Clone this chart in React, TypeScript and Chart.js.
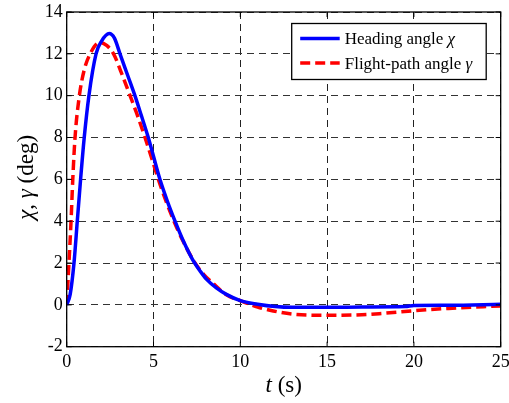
import React, { useEffect, useRef } from "react";
import { Chart, registerables } from "chart.js";

Chart.register(...registerables);

// Heading angle chi (deg) vs t (s)
const headingT = [0, 0.2, 0.42, 0.61, 0.8, 1.01, 1.28, 1.69, 2.0, 2.45, 2.75, 3.07, 3.5, 3.93, 4.3, 4.7, 5.0, 5.37, 5.8, 6.24, 6.72, 7.26, 7.7, 8.06, 8.64, 9.2, 10, 11, 12, 13, 15, 17, 19.5, 20, 22, 25];
const headingDeg = [0, 0.5, 2, 4, 6, 8, 10, 12, 12.6, 12.97, 12.75, 12, 11, 10, 9.05, 8, 7.1, 6, 4.95, 4, 3.05, 2.15, 1.6, 1.22, 0.8, 0.5, 0.2, 0.03, -0.08, -0.12, -0.12, -0.1, -0.08, -0.03, -0.02, 0.03];

// Flight-path angle gamma (deg) vs t (s)
const flightT = [0, 0.13, 0.25, 0.35, 0.48, 0.73, 1.0, 1.35, 1.9, 2.3, 2.7, 3.1, 3.65, 4.1, 4.51, 4.9, 5.28, 5.7, 6.18, 6.7, 7.39, 7.9, 8.4, 9.2, 10, 11, 11.9, 13.2, 15, 17, 18, 20, 22, 25];
const flightDeg = [0, 2, 4, 6, 8, 10, 11.2, 12, 12.55, 12.4, 12, 11.2, 10, 9, 8, 7, 6, 5, 4, 3.05, 2, 1.45, 1.05, 0.48, 0.2, -0.1, -0.29, -0.46, -0.5, -0.47, -0.42, -0.28, -0.17, -0.05];

const xTicks = [0, 5, 10, 15, 20, 25];
const yTicks = [-2, 0, 2, 4, 6, 8, 10, 12, 14];

const legendLabels = ["Heading angle ", "Flight-path angle "];
const legendSymbols = ["\u03C7", "\u03B3"];
const xTitleParts: [string, boolean][] = [["t", true], [" (s)", false]];
const yTitleParts: [string, boolean][] = [["\u03C7", true], [", ", false], ["\u03B3", true], [" (deg)", false]];

const SERIF = '"Liberation Serif", "Times New Roman", serif';

function drawRich(ctx: CanvasRenderingContext2D, parts: [string, boolean][], size: number, cx: number, cy: number) {
  let total = 0;
  const widths: number[] = [];
  for (const [t, it] of parts) {
    ctx.font = `${it ? "italic " : ""}${size}px ${SERIF}`;
    const w = ctx.measureText(t).width;
    widths.push(w);
    total += w;
  }
  let x = cx - total / 2;
  ctx.textAlign = "left";
  ctx.textBaseline = "alphabetic";
  parts.forEach(([t, it], i) => {
    ctx.font = `${it ? "italic " : ""}${size}px ${SERIF}`;
    ctx.fillText(t, x, cy);
    x += widths[i];
  });
}

const overlayPlugin = {
  id: "overlay",
  afterDraw(chart: any) {
    const { ctx, chartArea: a, scales } = chart;
    const xs = scales.x;
    const ys = scales.y;
    ctx.save();
    // frame
    ctx.strokeStyle = "#000";
    ctx.lineWidth = 1.3;
    ctx.setLineDash([]);
    ctx.strokeRect(a.left, a.top, a.right - a.left, a.bottom - a.top);
    // inner tick marks
    ctx.lineWidth = 1;
    const tl = 5;
    ctx.beginPath();
    for (const v of xTicks) {
      const px = xs.getPixelForValue(v);
      ctx.moveTo(px, a.bottom);
      ctx.lineTo(px, a.bottom - tl);
      ctx.moveTo(px, a.top);
      ctx.lineTo(px, a.top + tl);
    }
    for (const v of yTicks) {
      const py = ys.getPixelForValue(v);
      ctx.moveTo(a.left, py);
      ctx.lineTo(a.left + tl, py);
      ctx.moveTo(a.right, py);
      ctx.lineTo(a.right - tl, py);
    }
    ctx.stroke();

    // axis titles
    ctx.fillStyle = "#000";
    drawRich(ctx, xTitleParts, 23, (a.left + a.right) / 2, 392);
    ctx.save();
    ctx.translate(33, (a.top + a.bottom) / 2 - 2);
    ctx.rotate(-Math.PI / 2);
    drawRich(ctx, yTitleParts, 23, 0, 0);
    ctx.restore();

    // legend
    const lx = a.right - 209;
    const ly = a.top + 11.5;
    const lw = 194.5;
    const lh = 56;
    ctx.fillStyle = "#fff";
    ctx.fillRect(lx, ly, lw, lh);
    ctx.strokeStyle = "#000";
    ctx.lineWidth = 1.3;
    ctx.strokeRect(lx, ly, lw, lh);
    const colors = ["#0000ff", "#ff0000"];
    const dashes = [[], [10, 5]];
    const rowsY = [ly + 15, ly + 39.5];
    for (let i = 0; i < 2; i++) {
      ctx.strokeStyle = colors[i];
      ctx.lineWidth = 3.5;
      ctx.setLineDash(dashes[i]);
      ctx.beginPath();
      ctx.moveTo(lx + 8.5, rowsY[i]);
      ctx.lineTo(lx + 48, rowsY[i]);
      ctx.stroke();
      ctx.setLineDash([]);
      ctx.fillStyle = "#000";
      ctx.textBaseline = "alphabetic";
      ctx.textAlign = "left";
      ctx.font = `17px ${SERIF}`;
      const tx = lx + 53;
      const by = rowsY[i] + 5.5;
      ctx.fillText(legendLabels[i], tx, by);
      const w = ctx.measureText(legendLabels[i]).width;
      ctx.font = `italic 17px ${SERIF}`;
      ctx.fillText(legendSymbols[i], tx + w, by);
    }
    ctx.restore();
  },
};

export default function App() {
  const ref = useRef<HTMLCanvasElement | null>(null);
  useEffect(() => {
    if (!ref.current) return;
    const chart = new Chart(ref.current, {
      type: "line",
      data: {
        datasets: [
          {
            label: legendLabels[0] + legendSymbols[0],
            data: headingT.map((t, i) => ({ x: t, y: headingDeg[i] })),
            borderColor: "#0000ff",
            borderWidth: 3.5,
            pointRadius: 0,
            cubicInterpolationMode: "monotone",
            fill: false,
          },
          {
            label: legendLabels[1] + legendSymbols[1],
            data: flightT.map((t, i) => ({ x: t, y: flightDeg[i] })),
            borderColor: "#ff0000",
            borderWidth: 3.5,
            borderDash: [10, 5],
            pointRadius: 0,
            cubicInterpolationMode: "monotone",
            fill: false,
          },
        ],
      },
      options: {
        responsive: false,
        animation: false,
        layout: { padding: { top: 12, right: 8.3, left: 0, bottom: 0 } },
        plugins: { legend: { display: false }, tooltip: { enabled: false } },
        scales: {
          x: {
            type: "linear",
            min: 0,
            max: 25,
            afterBuildTicks: (s: any) => {
              s.ticks = xTicks.map((v) => ({ value: v }));
            },
            afterFit: (s: any) => {
              s.height = 56.3;
              s.paddingLeft = 0;
              s.paddingRight = 0;
            },
            ticks: {
              color: "#000",
              font: { family: SERIF, size: 18 },
              padding: 5,
              maxRotation: 0,
            },
            grid: { color: "#222", lineWidth: 1, drawTicks: false },
            border: { display: false, dash: [7, 5] },
          },
          y: {
            type: "linear",
            min: -2,
            max: 14,
            afterBuildTicks: (s: any) => {
              s.ticks = yTicks.map((v) => ({ value: v }));
            },
            afterFit: (s: any) => {
              s.width = 66.7;
              s.paddingTop = 0;
              s.paddingBottom = 0;
            },
            ticks: {
              color: "#000",
              font: { family: SERIF, size: 18 },
              padding: 4,
            },
            grid: { color: "#333", lineWidth: 1, drawTicks: false },
            border: { display: false, dash: [7, 5] },
          },
        },
      },
      plugins: [overlayPlugin],
    } as any);
    return () => chart.destroy();
  }, []);
  return (
    <div style={{ position: "fixed", left: 0, top: 0, width: 509, height: 403, background: "#fff" }}>
      <canvas ref={ref} width={509} height={403} style={{ display: "block" }} />
    </div>
  );
}
